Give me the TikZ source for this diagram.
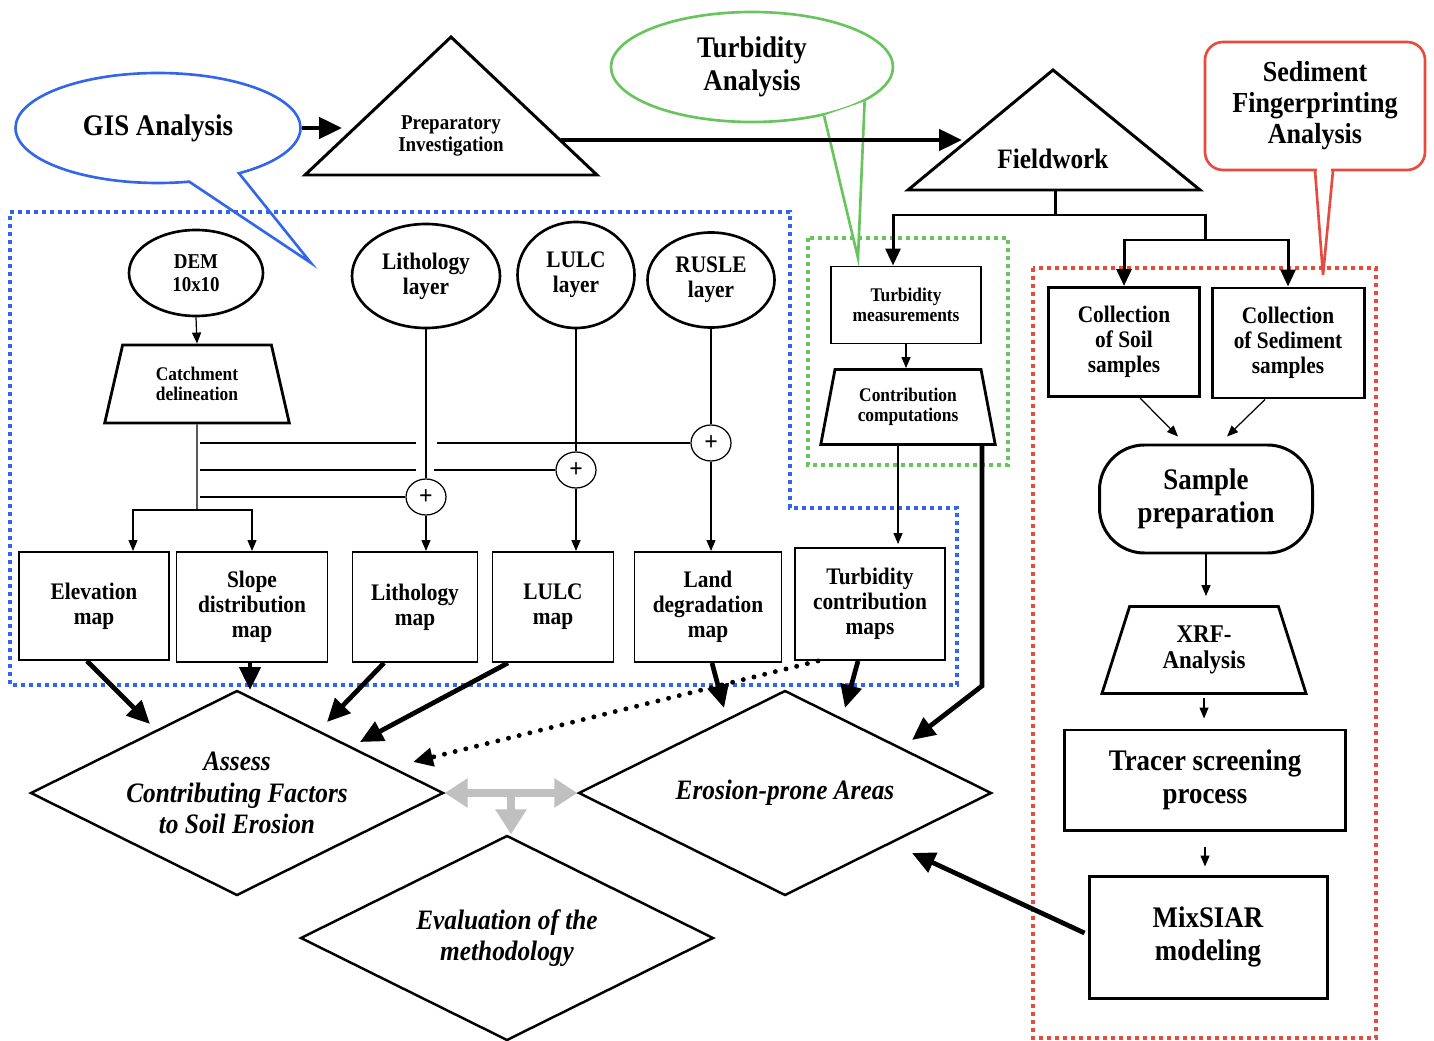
\documentclass[tikz,border=0pt]{standalone}
\usepackage{fontspec}
\setmainfont{Liberation Serif}[FakeStretch=0.9]
\usepackage{tikz}
\usetikzlibrary{shapes.geometric,shapes.callouts,arrows.meta,calc}

\definecolor{gisblue}{RGB}{52,102,235}
\definecolor{turbgreen}{RGB}{104,196,92}
\definecolor{sfared}{RGB}{232,74,62}
\definecolor{linkgray}{RGB}{192,192,192}

\begin{document}
\begin{tikzpicture}[x=0.2mm, y=-0.2mm]
    \tikzstyle{every node}=[align=center, inner sep=0pt]
    \tikzstyle{small font}=[font=\fontsize{11}{11.4}\selectfont\bfseries]
    \tikzstyle{mid font}=[font=\fontsize{13.5}{14.3}\selectfont\bfseries]
    \tikzstyle{big font}=[font=\fontsize{17}{18.7}\selectfont\bfseries]
    \tikzstyle{plain box}=[rectangle, draw, line width=1.1pt]
    \tikzstyle{heavy box}=[plain box, line width=1.7pt]
    \tikzstyle{map box}=[plain box, mid font, minimum height=21.6mm]
    \tikzstyle{layer node}=[ellipse, draw, line width=1.5pt, mid font]
    \tikzstyle{plus node}=[ellipse, draw, line width=0.7pt, minimum width=8mm, minimum height=7.2mm, font=\fontsize{15}{15}\selectfont\bfseries]
    \tikzstyle{trap}=[trapezium, draw, line width=1.6pt, trapezium stretches=true]
    \tikzstyle{goal}=[diamond, draw, line width=1.4pt, aspect=2, inner sep=-1mm, minimum width=82.6mm, minimum height=41mm, font=\fontsize{16}{18}\selectfont\bfseries\itshape]
    \tikzstyle{callout line}=[line width=1.5pt]
    \tikzstyle{dotted frame}=[line width=0.8mm, dash pattern=on 0.8mm off 0.8mm]
    \tikzstyle{thin arrow}=[-{Triangle[length=2.2mm,width=1.8mm]}, line width=0.7pt]
    \tikzstyle{mid arrow}=[-{Triangle[length=3.4mm,width=3mm]}, line width=1.7pt]
    \tikzstyle{heavy arrow}=[-{Triangle[length=4.6mm,width=4.2mm]}, line width=2.7pt]
    \tikzstyle{dotted arrow}=[-{Triangle[length=4mm,width=3.6mm]}, line width=2.8pt, line cap=round, dash pattern=on 0pt off 2.2mm]
    \tikzstyle{gray link}=[draw=linkgray, line width=1.5mm]

    \fill[white] (0,0) rectangle (1434,1041);
    \useasboundingbox (0,0) rectangle (1434,1041);

    % Draw the callouts
    \node[ellipse callout, draw=gisblue, callout line, big font, minimum width=57mm, minimum height=22mm,
          callout absolute pointer={(311,263)}, callout pointer arc=22] (gis) at (158,128) {GIS Analysis};
    \node[ellipse, draw=turbgreen, callout line, big font, minimum width=56.4mm, minimum height=22mm] (turb) at (752,67) {Turbidity\\Analysis};
    \coordinate (turbTip) at (858,258);
    \filldraw[draw=turbgreen, fill=white, callout line] (turb.-34) -- (turbTip) -- (turb.-17);
    \node[draw=sfared, callout line, rounded corners=3.6mm, minimum width=44mm, minimum height=25.6mm,
          font=\fontsize{16.5}{17.6}\selectfont\bfseries] (sfa) at (1315,106) {Sediment\\Fingerprinting\\Analysis};
    \coordinate (sfaTip) at (1323,275);
    \fill[white] ($(sfa.south)+(2,-3)$) rectangle ($(sfa.south)+(16,3)$);
    \draw[sfared, callout line] ($(sfa.south)+(0,-1)$) -- (sfaTip) -- ($(sfa.south)+(18,-1)$);

    % Draw the dotted frames
    \draw[dotted frame, gisblue] (10,212) -- (790,212) -- (790,508) -- (957,508) -- (957,685) -- (10,685) -- cycle;
    \draw[dotted frame, turbgreen] (808,238) rectangle (1008,465);
    \draw[dotted frame, sfared] (1033,268) rectangle (1376,1038);

    % Draw the two stage triangles
    \draw[line width=1.7pt] (305,175) -- (451,37) -- (597,175) -- cycle;
    \node[font=\fontsize{12}{13}\selectfont\bfseries] (prep) at (451,136) {Preparatory\\Investigation};
    \draw[line width=1.7pt] (908,190) -- (1053,70) -- (1200,190) -- cycle;
    \node[font=\fontsize{16}{17}\selectfont\bfseries] (field) at (1053,159) {Fieldwork};
    \coordinate (prepL) at (342,128);
    \coordinate (prepR) at (561,140);
    \coordinate (fieldL) at (962,140);
    \coordinate (fieldB) at (1055,190);
    \draw[heavy arrow] (gis.east) -- (prepL);
    \draw[heavy arrow] (prepR) -- (fieldL);

    % GIS layers
    \node[layer node, font=\fontsize{12}{13}\selectfont\bfseries, minimum width=26.8mm, minimum height=17.2mm] (dem) at (196,273) {DEM\\10x10};
    \node[layer node, minimum width=29.6mm, minimum height=20.8mm] (lithL) at (426,276) {Lithology\\layer};
    \node[layer node, minimum width=23.4mm, minimum height=21.2mm] (lulcL) at (576,275) {LULC\\layer};
    \node[layer node, minimum width=25.4mm, minimum height=19mm] (rusleL) at (711,280) {RUSLE\\layer};
    \node[trap, small font, trapezium left angle=73.6, trapezium right angle=73.6, minimum width=37mm, minimum height=15.6mm] (catch) at (197,384) {Catchment\\delineation};
    \draw[thin arrow] (dem.south) -- (catch.south |- catch.north);

    \node[plus node] (plusR) at (711,443) {+};
    \node[plus node] (plusU) at (576,470) {+};
    \node[plus node] (plusL) at (426,497) {+};

    % Maps
    \node[map box, minimum width=30mm] (elev) at (94,606) {Elevation\\map};
    \node[map box, minimum width=30.2mm, minimum height=22mm] (slope) at (252,607) {Slope\\distribution\\map};
    \node[map box, minimum width=25mm, minimum height=22mm] (lithM) at (415,607) {Lithology\\map};
    \node[map box, minimum width=24.2mm, minimum height=22mm] (lulcM) at (553,607) {LULC\\map};
    \node[map box, minimum width=29.4mm, minimum height=22mm] (land) at (708,607) {Land\\degradation\\map};
    \node[map box, minimum width=30mm, minimum height=22.4mm] (tcont) at (870,604) {Turbidity\\contribution\\maps};

    % Catchment links
    \coordinate (cfork) at (197,510);
    \draw[line width=0.7pt] (catch.south) -- (cfork);
    \draw[thin arrow] (cfork) -| ($(elev.north)+(39,0)$);
    \draw[thin arrow] (cfork) -| (slope.north);
    \draw[line width=0.7pt] ($(catch.south |- plusR)+(3,0)$) -- ($(lithL.south |- plusR)+(-10,0)$);
    \draw[line width=0.7pt] ($(lithL.south |- plusR)+(11,0)$) -- (plusR.west);
    \draw[line width=0.7pt] ($(catch.south |- plusU)+(3,0)$) -- ($(lithL.south |- plusU)+(-10,0)$);
    \draw[line width=0.7pt] ($(lithL.south |- plusU)+(8,0)$) -- (plusU.west);
    \draw[line width=0.7pt] ($(catch.south |- plusL)+(3,0)$) -- (plusL.west);
    \foreach \layer/\plus/\map in {lithL/plusL/lithM, lulcL/plusU/lulcM, rusleL/plusR/land}
    {
        \draw[line width=0.7pt] (\layer.south) -- (\plus.north);
        \draw[thin arrow] (\plus.south) -- (\plus.south |- \map.north);
    }

    % Turbidity branch
    \node[plain box, small font, minimum width=30mm, minimum height=15.4mm] (tmeas) at (906,305) {Turbidity\\measurements};
    \node[trap, small font, trapezium left angle=75.4, trapezium right angle=75.4, minimum width=35mm, minimum height=15mm] (contr) at (908,407) {Contribution\\computations};
    \draw[thin arrow] (tmeas.south) -- (tmeas.south |- contr.north);
    \draw[thin arrow] ($(contr.south)+(-10,0)$) -- ($(contr.south |- tcont.north)+(-10,-3)$);

    % Sediment fingerprinting branch
    \node[heavy box, mid font, minimum width=30.2mm, minimum height=21.8mm] (soil) at (1124,342) {Collection\\of Soil\\samples};
    \node[heavy box, mid font, minimum width=30.4mm, minimum height=22mm] (sed) at (1288,343) {Collection\\of Sediment\\samples};
    \node[heavy box, big font, rounded corners=9mm, minimum width=42.6mm, minimum height=21.6mm] (sprep) at (1206,499) {Sample\\preparation};
    \node[trap, font=\fontsize{14.5}{15}\selectfont\bfseries, trapezium left angle=72.4, trapezium right angle=72.4, minimum width=41mm, minimum height=17.4mm] (xrf) at (1204,650) {XRF-\\Analysis};
    \node[heavy box, big font, minimum width=56.2mm, minimum height=20mm] (tracer) at (1205,780) {Tracer screening\\process};
    \node[heavy box, big font, minimum width=47.6mm, minimum height=24.4mm] (mix) at (1208,937) {MixSIAR\\modeling};
    \draw[thin arrow] ($(soil.south)+(16,0)$) -- ($(sprep.north)+(-28,-7)$);
    \draw[thin arrow] ($(sed.south)+(-23,0)$) -- ($(sprep.north)+(21,-7)$);
    \draw[thin arrow, shorten >=1.8mm] (sprep.south) -- (sprep.south |- xrf.north);
    \draw[thin arrow, shorten <=0.6mm, shorten >=2mm] (xrf.south) -- (xrf.south |- tracer.north);
    \draw[thin arrow, shorten <=3mm, shorten >=1.6mm] (tracer.south) -- (tracer.south |- mix.north);

    % Fieldwork fork
    \coordinate (fork1) at (1055,215);
    \coordinate (fork2) at (1205,240);
    \draw[mid arrow] (fieldB) -- (fork1) -| ($(tmeas.north)+(-13,0)$);
    \draw[line width=1.7pt] (fork1) -| (fork2);
    \draw[mid arrow] (fork2) -| (soil.north);
    \draw[mid arrow] (fork2) -| (sed.north);

    % Results
    \node[goal] (assess) at (237,793) {Assess\\Contributing Factors\\to Soil Erosion};
    \node[goal] (erosion) at (785,793) {Erosion-prone Areas};
    \node[goal] (evalm) at (507,938) {Evaluation of the\\methodology};

    \coordinate (tipA1) at (150,724);
    \coordinate (tipA2) at (250,690);
    \coordinate (tipA3) at (327,722);
    \coordinate (tipA4) at (360,742);
    \coordinate (tipA5) at (413,762);
    \coordinate (tipE1) at (724,708);
    \coordinate (tipE2) at (845,708);
    \coordinate (tipE3) at (912,740);
    \coordinate (tipE4) at (912,853);
    \draw[heavy arrow] ($(elev.south)+(-7,0)$) -- (tipA1);
    \draw[heavy arrow] ($(slope.south)+(-2,0)$) -- (tipA2);
    \draw[heavy arrow] ($(lithM.south)+(-31,0)$) -- (tipA3);
    \draw[heavy arrow] ($(lulcM.south)+(-45,0)$) -- (tipA4);
    \draw[dotted arrow] ($(tcont.south)+(-52,0)$) -- (tipA5);
    \draw[heavy arrow] ($(land.south)+(4,0)$) -- (tipE1);
    \draw[heavy arrow] ($(tcont.south)+(-12,0)$) -- (tipE2);
    \draw[heavy arrow] ($(contr.south)+(74,0)$) -- ++(0,240) -- (tipE3);
    \draw[heavy arrow] ($(mix.west)+(-3,-4)$) -- (tipE4);

    % Gray links between the results
    \draw[gray link, {Triangle[length=4.6mm,width=5.6mm]}-{Triangle[length=4.6mm,width=5.6mm]}] (assess.east) -- coordinate (gmid) (erosion.west);
    \draw[gray link, -{Triangle[length=5mm,width=6mm]}] (gmid) -- (gmid |- evalm.north);
\end{tikzpicture}
\end{document}
